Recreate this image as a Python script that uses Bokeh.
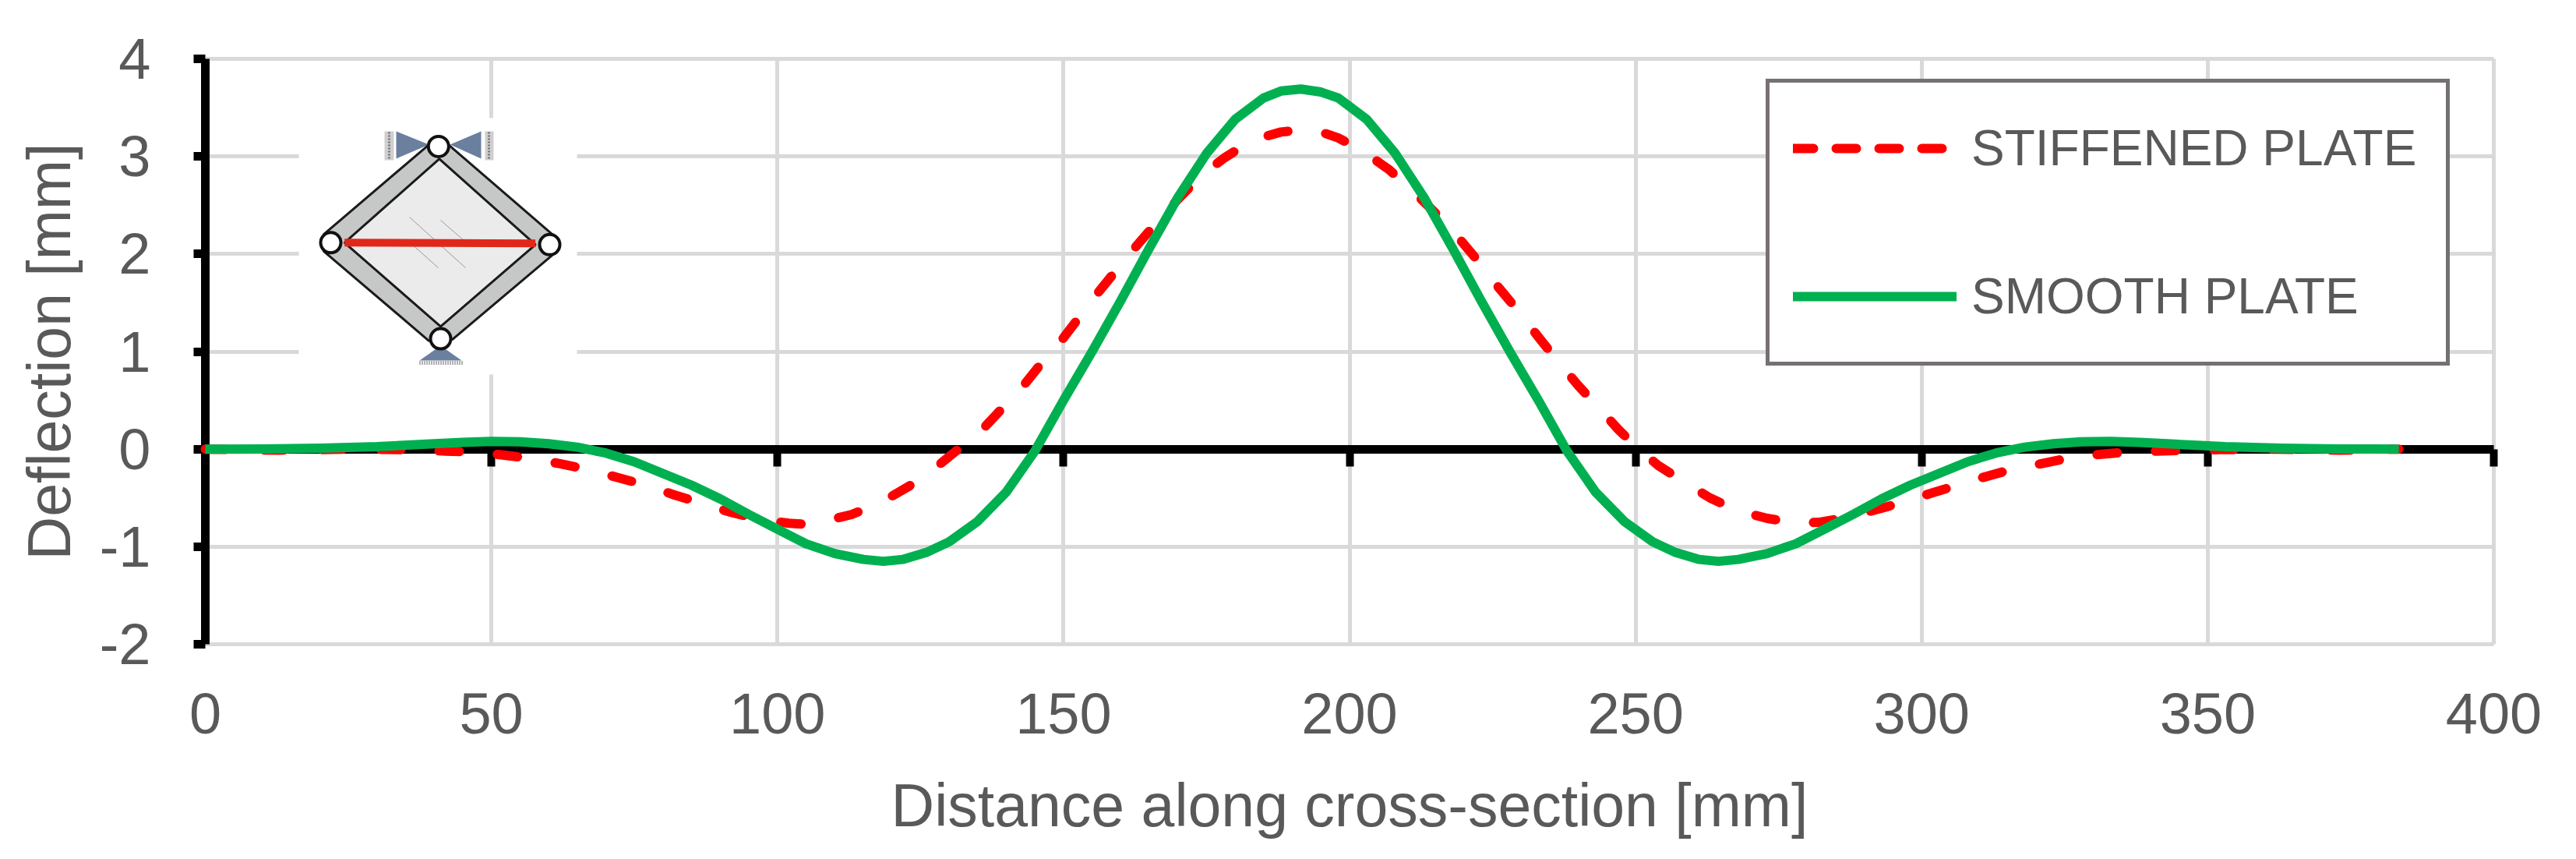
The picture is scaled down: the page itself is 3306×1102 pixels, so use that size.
from bokeh.embed import file_html
from bokeh.models import FixedTicker, Legend, LegendItem, LinearAxis
from bokeh.plotting import figure
from bokeh.resources import INLINE

# values
x_ticks = [0, 50, 100, 150, 200, 250, 300, 350, 400]
y_ticks = [-2, -1, 0, 1, 2, 3, 4]

stiffened_x = [0, 13, 25, 35, 42, 47, 52, 57, 62, 67, 72, 77, 82, 87, 92, 97, 102, 105, 108, 113, 118, 123, 127,
               131, 135.5, 139, 143, 146, 150, 153, 156, 160, 163, 167, 170, 174, 178, 182, 185, 188, 191.5,
               195, 198, 202, 207, 211, 215, 219, 222, 226, 229, 233, 236, 240, 243, 247, 250, 254, 258.6,
               263, 267.8, 273, 278.5, 282, 285, 289, 294, 299, 304, 309.5, 315, 320, 325, 330, 335, 341,
               352, 362.6, 373, 383.4]
stiffened_y = [0, -0.01, 0, -0.005, -0.02, -0.03, -0.06, -0.095, -0.15, -0.21, -0.29, -0.37, -0.47, -0.56, -0.65,
               -0.72, -0.76, -0.77, -0.74, -0.67, -0.55, -0.38, -0.22,
               -0.03, 0.18, 0.4, 0.65, 0.87, 1.14, 1.37, 1.6, 1.89, 2.1, 2.37, 2.56, 2.8, 2.98, 3.13, 3.2, 3.25, 3.27,
               3.25, 3.19, 3.07, 2.86, 2.65, 2.42, 2.17, 1.96, 1.66, 1.45, 1.15, 0.93, 0.65, 0.46, 0.2, 0.03, -0.17,
               -0.34, -0.5, -0.63, -0.71, -0.76, -0.75, -0.72, -0.67, -0.59, -0.5, -0.41, -0.31, -0.22, -0.16, -0.1,
               -0.06, -0.035, -0.02, -0.005, 0, -0.01, 0]

smooth_x = [0, 10, 20, 30, 40, 45, 50, 55, 60, 65, 70, 75, 80, 85, 90, 95, 100, 105, 110, 115, 118.5, 122, 126,
            130, 135, 140, 145, 150, 155, 160, 165, 170, 175, 180, 185, 188, 191.5, 195, 198, 203, 208, 213,
            218, 223, 228, 233, 238, 243, 248, 253, 257, 261, 264.5, 268, 273, 278, 283, 288, 293, 298,
            303, 308, 313, 318, 323, 328, 333, 338, 343, 353, 363, 373, 383.4]
smooth_y = [0, 0.002, 0.01, 0.025, 0.055, 0.07, 0.08, 0.075, 0.055, 0.02, -0.04, -0.13, -0.25, -0.37, -0.51, -0.67,
            -0.82, -0.97, -1.07, -1.13, -1.15, -1.13, -1.06,
            -0.95, -0.74, -0.44, -0.02, 0.5, 1.0, 1.52, 2.06, 2.58, 3.03, 3.38, 3.6, 3.67, 3.69, 3.66, 3.6, 3.38,
            3.03, 2.58, 2.06, 1.52, 1.0, 0.5, -0.02, -0.44, -0.74, -0.95, -1.06, -1.13, -1.15, -1.13, -1.07,
            -0.97, -0.82, -0.67, -0.51, -0.37, -0.25, -0.13, -0.04, 0.02, 0.055, 0.075, 0.08, 0.07, 0.055, 0.025,
            0.01, 0.002, 0]

x_label = "Distance along cross-section [mm]"
y_label = "Deflection [mm]"
stiffened_name = "STIFFENED PLATE"
smooth_name = "SMOOTH PLATE"

FONT = "Liberation Sans"
TEXT = "#595959"
GRID = "#D9D9D9"
X_SCALE = 7.3425
Y_SCALE = 125.17

p = figure(frame_width=2967, frame_height=763,
           x_range=(-15 / X_SCALE, 400 + 15 / X_SCALE),
           y_range=(-2 - 6 / Y_SCALE, 4 + 6 / Y_SCALE),
           min_border_left=248, min_border_right=83, min_border_top=69, min_border_bottom=262,
           output_backend="svg", toolbar_location=None)
p.outline_line_color = None

p.xgrid.ticker = FixedTicker(ticks=x_ticks)
p.ygrid.ticker = FixedTicker(ticks=y_ticks)
p.xgrid.cross_bounds = (-2, 4)
p.ygrid.cross_bounds = (0, 400)
p.xgrid.grid_line_color = GRID
p.ygrid.grid_line_color = GRID
p.xgrid.grid_line_width = 5
p.ygrid.grid_line_width = 5

# both axes sit on zero, their labels live on a second axis outside the frame
yaxis = p.yaxis[0]
yaxis.ticker = FixedTicker(ticks=y_ticks)
yaxis.fixed_location = 0
yaxis.bounds = (-2, 4)
yaxis.axis_line_color = "black"
yaxis.axis_line_width = 11
yaxis.major_tick_line_color = "black"
yaxis.major_tick_line_width = 11
yaxis.major_tick_in = 0
yaxis.major_tick_out = 22
yaxis.minor_tick_line_color = None
yaxis.major_label_text_color = None
yaxis.major_label_text_font_size = "1px"
yaxis.major_label_standoff = 0

ylabels = LinearAxis(ticker=FixedTicker(ticks=y_ticks), axis_label=y_label)
ylabels.axis_line_color = None
ylabels.major_tick_line_color = None
ylabels.minor_tick_line_color = None
ylabels.major_tick_in = 0
ylabels.major_tick_out = 0
ylabels.major_label_overrides = {-2: "-2", -1: "-1"}
ylabels.major_label_text_font = FONT
ylabels.major_label_text_font_size = "74px"
ylabels.major_label_text_color = TEXT
ylabels.major_label_standoff = 55
ylabels.axis_label_text_font = FONT
ylabels.axis_label_text_font_size = "77px"
ylabels.axis_label_text_font_style = "normal"
ylabels.axis_label_text_color = TEXT
ylabels.axis_label_standoff = 19
p.add_layout(ylabels, "left")

xaxis = p.xaxis[0]
xaxis.ticker = FixedTicker(ticks=x_ticks)
xaxis.fixed_location = 0
xaxis.bounds = (0, 400)
xaxis.axis_line_color = "black"
xaxis.axis_line_width = 11
xaxis.major_tick_line_color = "black"
xaxis.major_tick_line_width = 10
xaxis.major_tick_in = 0
xaxis.major_tick_out = 22
xaxis.minor_tick_line_color = None
xaxis.major_label_text_color = None
xaxis.major_label_text_font_size = "1px"
xaxis.major_label_standoff = 0

xlabels = LinearAxis(ticker=FixedTicker(ticks=x_ticks), axis_label=x_label)
xlabels.axis_line_color = None
xlabels.major_tick_line_color = None
xlabels.minor_tick_line_color = None
xlabels.major_tick_in = 0
xlabels.major_tick_out = 0
xlabels.major_label_text_font = FONT
xlabels.major_label_text_font_size = "74px"
xlabels.major_label_text_color = TEXT
xlabels.major_label_standoff = 57
xlabels.axis_label_text_font = FONT
xlabels.axis_label_text_font_size = "77px"
xlabels.axis_label_text_font_style = "normal"
xlabels.axis_label_text_color = TEXT
xlabels.axis_label_standoff = 46
p.add_layout(xlabels, "below")


# inset sketch, measured in page pixels
def dx(vals):
    return [(v - 263) / X_SCALE for v in vals]


def dy(vals):
    return [(575.6 - v) / Y_SCALE for v in vals]


p.quad(left=dx([383]), right=dx([740]), top=dy([151]), bottom=dy([480]), fill_color="white", line_color=None)

# supports
p.quad(left=dx([493, 622]), right=dx([505, 633]), top=dy([168, 168]), bottom=dy([205, 205]),
       fill_color="#CFCFCF", line_color=None)
p.segment(dx([499, 627]), dy([169, 169]), dx([499, 627]), dy([204, 204]),
          line_color="#777777", line_width=3, line_dash="2 2")
p.patches([dx([508, 508, 550]), dx([617, 617, 577]), dx([538, 592, 565])],
          [dy([168, 203, 185]), dy([168, 203, 185]), dy([462, 462, 443])],
          fill_color="#6B7F9E", line_color=None)
p.segment(dx([538]), dy([465]), dx([593]), dy([465]), line_color="#666666", line_width=5, line_dash="1 2")

# plate and frame
p.patch(dx([415, 550, 575, 708.3, 708.3, 580, 550, 415]),
        dy([300, 185, 185, 300, 326.7, 435, 436.7, 321.7]),
        fill_color="#C6C8C7", line_color="#1A1A1A", line_width=3)
p.patch(dx([441.7, 563.3, 686.7, 565]), dy([310.7, 203.3, 313.3, 418.3]),
        fill_color="#EBEBEB", line_color="#1A1A1A", line_width=3)
p.segment(dx([525, 565, 525]), dy([278, 282, 310]), dx([597, 595, 562]), dy([343, 308, 343]),
          line_color="#999999", line_width=1)
p.line(dx([441.7, 686.7]), dy([310.7, 311.7]), line_color="#E0281A", line_width=10)
p.scatter(dx([562.3, 424, 705, 565]), dy([187.3, 310.7, 313.3, 434]), size=26,
          fill_color="white", line_color="#111111", line_width=4)

# curves go over the axis
line_red = p.line(stiffened_x, stiffened_y, line_color="#FF0000", line_width=12,
                  line_dash="26 49", line_cap="round", level="annotation")
line_green = p.line(smooth_x, smooth_y, line_color="#00B050", line_width=12,
                    line_join="round", level="annotation")

# legend draws from its own samples, the dash is tighter there
nan = float("nan")
key_red = p.line([nan, nan], [nan, nan], line_color="#FF0000", line_width=12, line_dash="26 29", line_cap="round")
key_green = p.line([nan, nan], [nan, nan], line_color="#00B050", line_width=12, line_cap="round")
legend = Legend(items=[LegendItem(label=stiffened_name, renderers=[key_red]),
                       LegendItem(label=smooth_name, renderers=[key_green])],
                location=(2018, 363), orientation="vertical")
legend.glyph_width = 210
legend.glyph_height = 108
legend.padding = 30
legend.spacing = 82
legend.margin = 0
legend.label_standoff = 19
legend.label_width = 579
legend.label_text_font = FONT
legend.label_text_font_size = "64px"
legend.label_text_color = TEXT
legend.label_text_baseline = "middle"
legend.border_line_color = "#767171"
legend.border_line_alpha = 1
legend.border_line_width = 5
legend.background_fill_color = "white"
legend.background_fill_alpha = 1
p.add_layout(legend, "center")

open("out.html", "w").write(file_html(p, INLINE))
